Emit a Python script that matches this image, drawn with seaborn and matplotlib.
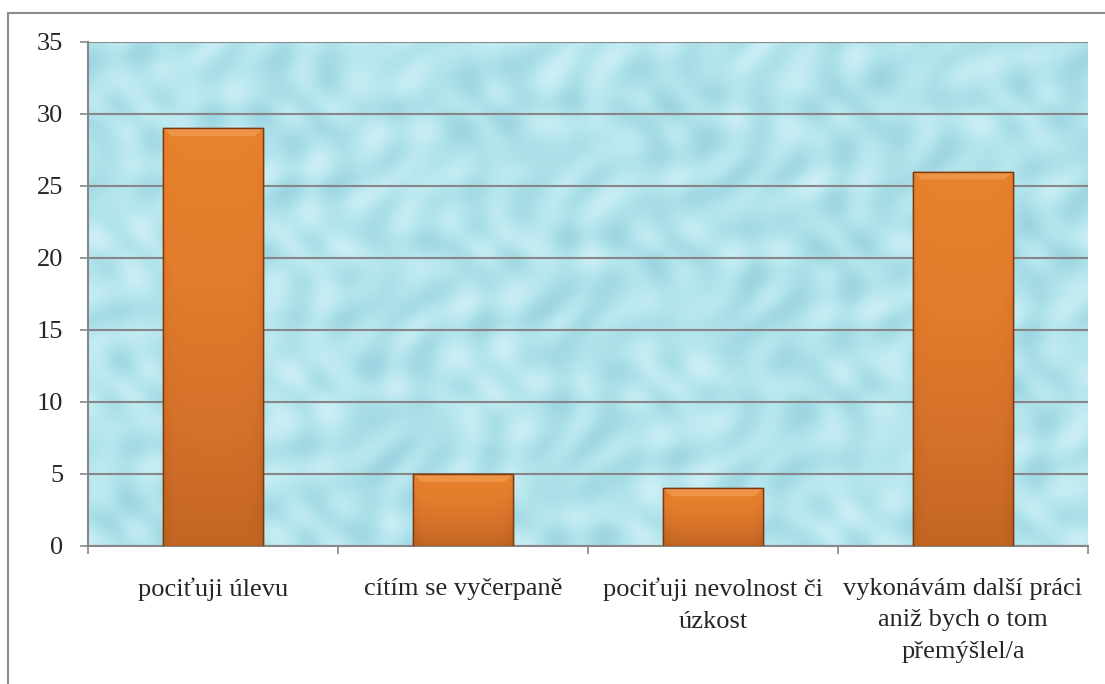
import numpy as np
import pandas as pd
import matplotlib
matplotlib.use("Agg")
import matplotlib.pyplot as plt
import seaborn as sns
from matplotlib.colors import LinearSegmentedColormap
from matplotlib.lines import Line2D

categories = [
    "pociťuji úlevu",
    "cítím se vyčerpaně",
    "pociťuji nevolnost či\núzkost",
    "vykonávám další práci\naniž bych o tom\npřemýšlel/a",
]
values = [29, 5, 4, 26]
y_ticks = [0, 5, 10, 15, 20, 25, 30, 35]

sns.set_theme(style="white")
plt.rcParams['font.family'] = ['Liberation Serif', 'DejaVu Serif']

fig = plt.figure(figsize=(11.05, 6.84), dpi=100)
ax = fig.add_axes([88 / 1105, 1 - 546 / 684, 1000 / 1105, 504 / 684])

df = pd.DataFrame({"cat": categories, "val": values})
sns.barplot(data=df, x="cat", y="val", ax=ax, width=0.4, color="#e07b28",
            edgecolor="#7a3a10", linewidth=1.0, zorder=3)

ax.set_xlim(-0.5, len(categories) - 0.5)
ax.set_ylim(0, 35)

# textured light-blue background (decorative)
ny, nx = 300, 600
yy, xx = np.mgrid[0:ny, 0:nx]
tex = (0.5 * np.sin(xx / 9.0 + np.sin(yy / 13.0) * 2.0) * np.cos(yy / 11.0 + np.cos(xx / 17.0) * 2.0)
       + 0.3 * np.sin((xx + yy) / 7.0) * np.sin((xx - yy) / 15.0))
tex = (tex - tex.min()) / (tex.max() - tex.min())
base = np.array([178, 228, 236]) / 255.0
dark = np.array([155, 212, 225]) / 255.0
light = np.array([205, 239, 245]) / 255.0
img = np.where(tex[..., None] < 0.5,
               dark + (base - dark) * (tex[..., None] / 0.5),
               base + (light - base) * ((tex[..., None] - 0.5) / 0.5))
ax.imshow(img, extent=(-0.5, len(categories) - 0.5, 0, 35), aspect="auto",
          zorder=0, interpolation="bilinear")

# gradient fill for bars
cmap = LinearSegmentedColormap.from_list("bar", ["#bd6220", "#d3702a", "#e37c2b", "#e9822d"])
for p in ax.patches:
    x0, w, h = p.get_x(), p.get_width(), p.get_height()
    grad = np.linspace(0, 1, 256).reshape(-1, 1)
    grad = np.repeat(grad, 32, axis=1)
    edge = np.abs(np.linspace(-1, 1, 32))[None, :]
    grad = grad * 0.9 + 0.1 - 0.15 * edge ** 8
    im = ax.imshow(grad, extent=(x0, x0 + w, 0, h), origin="lower", aspect="auto",
                   cmap=cmap, vmin=0, vmax=1, zorder=3.5, interpolation="bilinear")
    im.set_clip_path(p)
    # bevel highlight at the top
    bev = 0.55
    ax.fill([x0, x0 + w, x0 + w - 0.035, x0 + 0.035], [h, h, h - bev, h - bev],
            color="#f4a55c", alpha=0.55, zorder=3.6, lw=0)
    ax.add_patch(plt.Rectangle((x0, 0), w, h, fill=False, edgecolor="#7a3a10",
                               lw=1.0, zorder=3.7))

ax.set_axisbelow(True)
ax.yaxis.grid(True, color="#878787", lw=1.5)
ax.xaxis.grid(False)
ax.set_yticks(y_ticks)
ax.set_yticklabels([str(v) for v in y_ticks])
for s in ["top", "right"]:
    ax.spines[s].set_visible(False)
for s in ["left", "bottom"]:
    ax.spines[s].set_color("#878787")
    ax.spines[s].set_linewidth(1.5)

ax.set_xticks(np.arange(-0.5, len(categories), 1.0), minor=True)
ax.tick_params(axis="x", which="minor", length=6, width=1.2, color="#878787", direction="out", bottom=True)
ax.tick_params(axis="x", which="major", length=0, pad=23, labelsize=19)
ax.tick_params(axis="y", which="major", length=6, width=1.2, color="#878787", direction="out",
               left=True, pad=12, labelsize=19)
for t in ax.get_xticklabels():
    t.set_linespacing(1.55)
ax.set_xlabel("")
ax.set_ylabel("")

# frame lines of the chart area
fig.add_artist(Line2D([8 / 1105, 8 / 1105], [0, 1 - 13 / 684], transform=fig.transFigure,
                      color="#8c8c8c", lw=1.5))
fig.add_artist(Line2D([8 / 1105, 1.0], [1 - 13 / 684, 1 - 13 / 684], transform=fig.transFigure,
                      color="#8c8c8c", lw=1.5))

fig.savefig("out.png", dpi=100)
